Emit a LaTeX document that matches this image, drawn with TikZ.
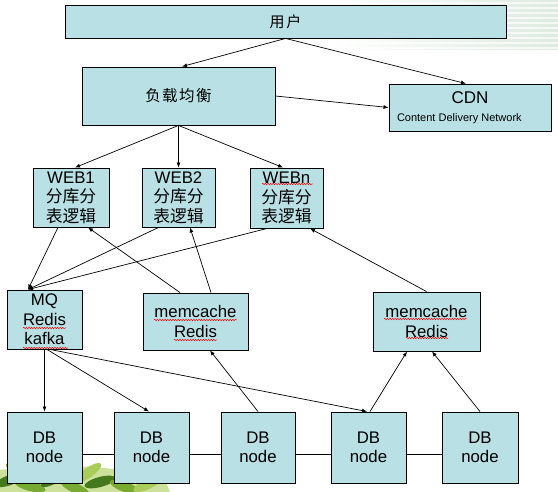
\documentclass[tikz,border=0pt]{standalone}
\usepackage{fontspec}
\setmainfont{Liberation Sans}
\newfontfamily\cjk{Noto Sans CJK SC}
\usetikzlibrary{arrows.meta,decorations.pathmorphing}
\definecolor{boxfill}{RGB}{185,224,228}
\definecolor{stripe}{RGB}{222,234,224}
\definecolor{leafA}{RGB}{70,120,30}
\definecolor{leafB}{RGB}{120,170,50}
\definecolor{leafC}{RGB}{170,205,90}
\begin{document}
\begin{tikzpicture}[x=1pt,y=-1pt,
  box/.style={draw=black, fill=boxfill, line width=0.9pt, inner sep=0pt, align=center,
              font=\fontsize{16.8}{19.5}\selectfont},
  arr/.style={line width=0.7pt, -{Latex[length=5pt,width=4pt]}},
  lnk/.style={line width=0.7pt},
  squig/.style={draw=red, line width=0.5pt, decorate,
                decoration={snake, segment length=2.6pt, amplitude=0.7pt}}]
\useasboundingbox (0,0) rectangle (558,492);
% slide background decorations
\shade[left color=white, right color=stripe] (330,0) rectangle (558,50);
\foreach \yy in {3,8,...,50} \draw[white, line width=1.3pt, opacity=0.7] (330,\yy) -- (558,\yy);
\begin{scope}
  \clip (0,460) rectangle (170,492);
  \fill[leafC!60] (0,492) -- (0,470) .. controls (60,462) and (120,466) .. (165,480) -- (170,492) -- cycle;
  \foreach \cx/\cy/\ang/\col in {10/480/20/leafA, 30/486/-15/leafB, 55/478/30/leafA, 75/488/-25/leafB,
      100/482/15/leafA, 125/487/-20/leafB, 148/484/25/leafC, 20/472/-30/leafB, 88/473/35/leafC, 140/476/-10/leafA}
    \fill[\col, rotate around={\ang:(\cx,\cy)}] (\cx,\cy) ellipse (16pt and 5pt);
\end{scope}
% nodes
\node[box, minimum width=441pt, minimum height=33pt, font=\cjk\fontsize{15}{18}\selectfont] (user) at (285.5,21.5) {用\hspace{2pt}户};
\node[box, minimum width=193pt, minimum height=58pt, font=\cjk\fontsize{15.5}{18}\selectfont] (lb) at (178.5,96) {负\hspace{1.5pt}载\hspace{1.5pt}均\hspace{1.5pt}衡};
\node[box, minimum width=162pt, minimum height=47pt, align=left] (cdn) at (470,107.5)
  {\makebox[146pt]{\fontsize{17}{18}\selectfont CDN}\\[-1pt]{\fontsize{11}{12}\selectfont Content Delivery Network}\hspace{16pt}};
\node[box, minimum width=76pt, minimum height=59pt] (web1) at (71,197.5) {WEB1\\{\cjk 分库分}\\{\cjk 表逻辑}};
\node[box, minimum width=73pt, minimum height=59pt] (web2) at (178.5,197.5) {WEB2\\{\cjk 分库分}\\{\cjk 表逻辑}};
\node[box, minimum width=73pt, minimum height=60pt] (webn) at (286.5,198) {WEBn\\{\cjk 分库分}\\{\cjk 表逻辑}};
\node[box, minimum width=75pt, minimum height=59pt] (mq) at (44.5,319.5) {MQ\\Redis\\kafka};
\node[box, minimum width=105pt, minimum height=57pt] (mc1) at (195.5,321.5) {memcache\\Redis};
\node[box, minimum width=107pt, minimum height=59pt] (mc2) at (426.5,321.5) {memcache\\Redis};
\node[box, minimum width=75pt, minimum height=71pt] (db1) at (44.5,447.5) {DB\\node};
\node[box, minimum width=75pt, minimum height=71pt] (db2) at (151.5,447.5) {DB\\node};
\node[box, minimum width=74pt, minimum height=71pt] (db3) at (258,447.5) {DB\\node};
\node[box, minimum width=75pt, minimum height=71pt] (db4) at (368.5,447.5) {DB\\node};
\node[box, minimum width=76pt, minimum height=71pt] (db5) at (480,447.5) {DB\\node};
\coordinate (mqin) at ([xshift=-16.5pt]mq.north);
% spell-check squiggles
\draw[squig] (262,184) -- (313,184);
\draw[squig] (23,328) -- (66,328);
\draw[squig] (23,348) -- (68,348);
\draw[squig] (154,320) -- (237,320);
\draw[squig] (174,340) -- (217,340);
\draw[squig] (384,319) -- (467,319);
\draw[squig] (406,338) -- (448,338);
% connectors
\draw[arr] (user.south) -- ([xshift=3.5pt]lb.north);
\draw[arr] (user.south) -- ([xshift=-4pt]cdn.north);
\draw[arr] (lb.east) -- (cdn.west);
\draw[arr] (lb.south) -- ([xshift=4pt]web1.north);
\draw[arr] (lb.south) -- (web2.north);
\draw[arr] (lb.south) -- ([xshift=-3.5pt]webn.north);
\draw[arr] ([xshift=-13pt]web1.south) -- (mqin);
\draw[arr] ([xshift=-20pt]web2.south) -- (mqin);
\draw[arr] ([xshift=-19.5pt]webn.south) -- (mqin);
\draw[arr] ([xshift=-15.5pt]mc1.north) -- ([xshift=17pt]web1.south);
\draw[arr] ([xshift=15.5pt]mc1.north) -- ([xshift=11.5pt]web2.south);
\draw[arr] (mc2.north) -- ([xshift=23.5pt]webn.south);
\draw[arr] (mq.south) -- (db1.north);
\draw[arr] ([xshift=2.5pt]mq.south) -- ([xshift=-2.5pt]db2.north);
\draw[arr] ([xshift=5.5pt]mq.south) -- ([xshift=-1.5pt]db4.north);
\draw[arr] (db3.north) -- ([xshift=14.5pt]mc1.south);
\draw[arr] ([xshift=1.5pt]db4.north) -- ([xshift=-19.5pt]mc2.south);
\draw[arr] (db5.north) -- ([xshift=5.5pt]mc2.south);
\draw[lnk] ([yshift=-6.5pt]db1.east) -- ([yshift=-6.5pt]db2.west);
\draw[lnk] ([yshift=-6.5pt]db2.east) -- ([yshift=-6.5pt]db3.west);
\draw[lnk] ([yshift=-6.5pt]db3.east) -- ([yshift=-6.5pt]db4.west);
\draw[lnk] ([yshift=-6.5pt]db4.east) -- ([yshift=-6.5pt]db5.west);
\end{tikzpicture}
\end{document}
